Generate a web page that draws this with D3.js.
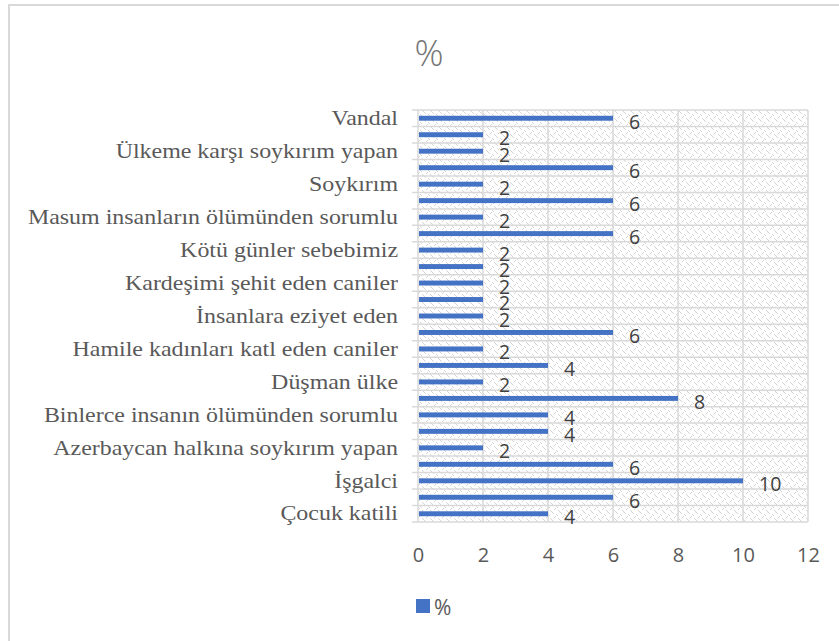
<!DOCTYPE html>
<html><head><meta charset="utf-8">
<script src="https://cdn.jsdelivr.net/npm/d3@7"></script>
<style>body{margin:0;background:#fff}svg{display:block}</style>
</head><body>
<script>
// categories from bottom to top; unlabeled categories (axis shows every second label) left blank
const categories = ["Çocuk katili","","İşgalci","","Azerbaycan halkına soykırım yapan ","","Binlerce insanın ölümünden sorumlu","","Düşman ülke","","Hamile kadınları katl eden caniler","","İnsanlara eziyet eden","","Kardeşimi şehit eden caniler","","Kötü günler sebebimiz","","Masum insanların ölümünden sorumlu","","Soykırım","","Ülkeme karşı soykırım yapan","","Vandal"];
const values = [4,6,10,6,2,4,4,8,2,4,2,6,2,2,2,2,2,6,2,6,2,6,2,2,6];
const xTicks = [0,2,4,6,8,10,12];
const seriesName = "%";
const chartTitle = "%";

(function(){
const W=839,H=641;
const svg=d3.select("body").append("svg").attr("width",W).attr("height",H);
const defs=svg.append("defs");
const pat=defs.append("pattern").attr("id","dots").attr("patternUnits","userSpaceOnUse").attr("width",8).attr("height",8);
pat.append("rect").attr("width",8).attr("height",8).attr("fill","#fff");
[[0,0],[1,1],[4,2],[5,3],[2,5],[6,6],[7,7],[3,4]].forEach(([a,b])=>pat.append("rect").attr("x",a).attr("y",b).attr("width",1).attr("height",1).attr("fill","#d4d4d4"));

// outer border
svg.append("path").attr("d","M9,641V5H839").attr("fill","none").attr("stroke","#d9d9d9").attr("stroke-width",2);

const pl=418,pr=808,pt=110,pb=522;
const x=d3.scaleLinear().domain([0,12]).range([pl,pr]);
const idx=d3.range(values.length);
const y=d3.scaleBand().domain(idx).range([pb,pt]).paddingInner(0.7).paddingOuter(0.35);

svg.append("rect").attr("x",pl).attr("y",pt).attr("width",pr-pl).attr("height",pb-pt).attr("fill","url(#dots)");

// vertical gridlines
svg.append("g").selectAll("line").data(xTicks).join("line")
 .attr("x1",d=>x(d)).attr("x2",d=>x(d)).attr("y1",pt).attr("y2",pb)
 .attr("stroke","#d9d9d9").attr("stroke-width",1.5);
// horizontal category boundaries
const step=(pb-pt)/values.length;
svg.append("g").selectAll("line").data(d3.range(values.length+1)).join("line")
 .attr("x1",pl-6).attr("x2",pr).attr("y1",d=>pb-d*step).attr("y2",d=>pb-d*step)
 .attr("stroke","#d9d9d9").attr("stroke-width",1.5);

// bars
svg.append("g").selectAll("rect").data(idx).join("rect")
 .attr("x",x(0)+1).attr("y",i=>y(i)).attr("height",y.bandwidth())
 .attr("width",i=>x(values[i])-x(0)-1).attr("fill","#4472C4");

// value labels
svg.append("g").selectAll("text").data(idx).join("text")
 .attr("x",i=>x(values[i])+16).attr("y",i=>y(i)+y.bandwidth()/2+10.5)
 .attr("font-family","Open Sans, sans-serif").attr("font-size",19.5).attr("fill","#404040")
 .text(i=>values[i]);

// category labels via axis
const yAxis=d3.axisLeft(y).tickSize(0).tickPadding(0).tickFormat(i=>categories[i]);
const gy=svg.append("g").attr("transform",`translate(398,0)`).call(yAxis);
gy.select(".domain").remove();
gy.selectAll(".tick text").attr("x",0).attr("dy","0.32em")
 .attr("transform","scale(1.14,1)")
 .attr("font-family","Liberation Serif, serif").attr("font-size",21).attr("fill","#595959");

// x axis
const xAxis=d3.axisBottom(x).tickValues(xTicks).tickSize(0).tickPadding(0);
const gx=svg.append("g").attr("transform",`translate(0,${pb+40})`).call(xAxis);
gx.select(".domain").remove();
gx.selectAll("text").attr("font-family","Open Sans, sans-serif").attr("font-size",20).attr("fill","#595959").attr("dy","0");

// title
svg.append("text").attr("x",429).attr("y",66).attr("text-anchor","middle")
 .attr("font-family","Open Sans, sans-serif").attr("font-size",36).attr("font-weight",300).attr("fill","#757575").text(chartTitle);

// legend
svg.append("rect").attr("x",416).attr("y",599).attr("width",14).attr("height",14).attr("fill","#4472C4");
svg.append("text").attr("x",434).attr("y",615).attr("font-family","Open Sans, sans-serif").attr("font-size",21).attr("fill","#595959").text(seriesName);
})();
</script>
</body></html>
